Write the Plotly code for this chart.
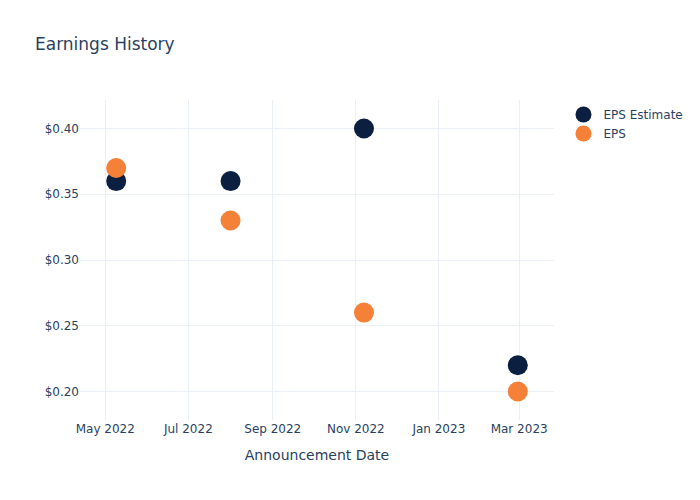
import plotly.graph_objects as go

dates = ["2022-05-09", "2022-08-01", "2022-11-07", "2023-02-28"]
eps_estimate = [0.36, 0.36, 0.40, 0.22]
eps_actual = [0.37, 0.33, 0.26, 0.20]

fig = go.Figure()
fig.add_trace(go.Scatter(x=dates, y=eps_estimate, mode="markers", name="EPS Estimate",
                         marker=dict(color="#0b1f40", size=20)))
fig.add_trace(go.Scatter(x=dates, y=eps_actual, mode="markers", name="EPS",
                         marker=dict(color="#f58038", size=20)))
fig.update_layout(
    template="plotly_white",
    width=700, height=500,
    font=dict(family="DejaVu Sans"),
    title=dict(text="Earnings History"),
    xaxis=dict(title="Announcement Date"),
    yaxis=dict(tickprefix="$", tickformat=".2f"),
)
fig.write_html("out.html")
